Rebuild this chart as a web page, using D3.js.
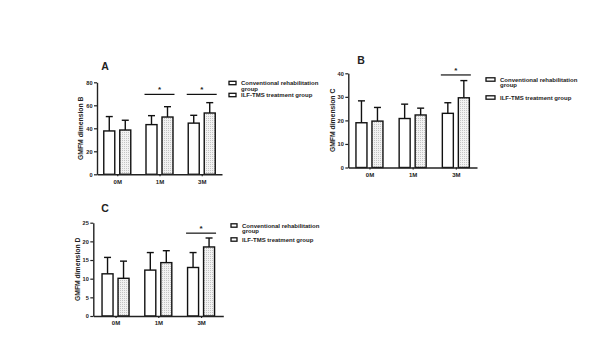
<!DOCTYPE html>
<html>
<head>
<meta charset="utf-8">
<script src="https://cdn.jsdelivr.net/npm/d3@7"></script>
<style>
  body { margin: 0; background: #fff; }
  svg text { font-family: "Liberation Sans", Arial, sans-serif; font-weight: bold; fill: #222; }
</style>
</head>
<body>
<svg id="chart" width="600" height="345"></svg>
<script>
// time points and groups
const timePoints = ['0M', '1M', '3M'];
const groupNames = ['Conventional rehabilitation group', 'ILF-TMS treatment group'];
const legendLines = [['Conventional rehabilitation', 'group'], ['ILF-TMS treatment group']];

// GMFM dimension B (panel A)
const dimBConv = [37.7, 43.2, 44.5];
const dimBConvSd = [12.5, 7.8, 6.8];
const dimBIlf = [38.5, 49.8, 53.3];
const dimBIlfSd = [8.5, 9.0, 9.0];
const dimBTicks = [0, 20, 40, 60, 80];
const dimBSig = ['1M', '3M'];

// GMFM dimension C (panel B)
const dimCConv = [19.0, 20.8, 23.0];
const dimCConvSd = [9.3, 6.1, 4.5];
const dimCIlf = [19.7, 22.3, 29.6];
const dimCIlfSd = [5.8, 2.9, 7.3];
const dimCTicks = [0, 10, 20, 30, 40];
const dimCSig = ['3M'];

// GMFM dimension D (panel C)
const dimDConv = [11.3, 12.3, 13.0];
const dimDConvSd = [4.4, 4.7, 4.0];
const dimDIlf = [10.1, 14.3, 18.5];
const dimDIlfSd = [4.6, 3.2, 2.4];
const dimDTicks = [0, 5, 10, 15, 20, 25];
const dimDSig = ['3M'];

class BarPanel {
    constructor(_config) {
        this.config = _config;
        this.initVis();
    }

    initVis() {
        let vis = this;
        let c = vis.config;

        vis.g = d3.select('#chart').append('g');

        vis.yScale = d3.scaleLinear()
            .domain([0, d3.max(c.ticks)])
            .range([c.bottom, c.top]);

        vis.xScale = d3.scalePoint()
            .domain(timePoints)
            .range([c.left, c.right])
            .padding(c.pad);

        vis.barScale = d3.scaleBand()
            .domain([0, 1])
            .range([-13.5, 13.5])
            .paddingInner(0.3125);

        vis.rows = [];
        timePoints.forEach((t, i) => {
            c.means.forEach((m, s) => {
                vis.rows.push({ t: t, s: s, mean: m[i], sd: c.sds[s][i] });
            });
        });

        vis.renderVis();
    }

    renderVis() {
        let vis = this;
        let c = vis.config;
        let bw = vis.barScale.bandwidth();

        // error bars (upper only)
        vis.g.selectAll('.err')
            .data(vis.rows)
            .join('line')
            .attr('class', 'err')
            .attr('x1', d => vis.xScale(d.t) + vis.barScale(d.s) + bw / 2)
            .attr('x2', d => vis.xScale(d.t) + vis.barScale(d.s) + bw / 2)
            .attr('y1', d => vis.yScale(d.mean))
            .attr('y2', d => vis.yScale(d.mean + d.sd))
            .attr('stroke', '#111')
            .attr('stroke-width', 1.4);

        vis.g.selectAll('.cap')
            .data(vis.rows)
            .join('line')
            .attr('class', 'cap')
            .attr('x1', d => vis.xScale(d.t) + vis.barScale(d.s) + bw / 2 - 3.5)
            .attr('x2', d => vis.xScale(d.t) + vis.barScale(d.s) + bw / 2 + 3.5)
            .attr('y1', d => vis.yScale(d.mean + d.sd))
            .attr('y2', d => vis.yScale(d.mean + d.sd))
            .attr('stroke', '#111')
            .attr('stroke-width', 1.4);

        // bars
        vis.g.selectAll('.bar')
            .data(vis.rows)
            .join('rect')
            .attr('class', 'bar')
            .attr('x', d => vis.xScale(d.t) + vis.barScale(d.s))
            .attr('width', bw)
            .attr('y', d => vis.yScale(d.mean))
            .attr('height', d => vis.yScale(0) - vis.yScale(d.mean))
            .attr('fill', d => d.s === 0 ? '#fff' : 'url(#dots)')
            .attr('stroke', '#111')
            .attr('stroke-width', 1.4);

        // axes
        let yAxis = d3.axisLeft(vis.yScale).tickValues(c.ticks).tickSize(3).tickSizeOuter(0).tickPadding(1.5);
        let yAxisG = vis.g.append('g')
            .attr('transform', `translate(${c.left},0)`)
            .call(yAxis);

        let xAxis = d3.axisBottom(vis.xScale).tickSize(2).tickSizeOuter(0).tickPadding(3);
        let xAxisG = vis.g.append('g')
            .attr('transform', `translate(0,${c.bottom})`)
            .call(xAxis);

        [yAxisG, xAxisG].forEach(a => {
            a.select('.domain').attr('stroke', '#222').attr('stroke-width', 1.4);
            a.selectAll('.tick line').attr('stroke', '#222').attr('stroke-width', 1.2);
            a.selectAll('.tick text').style('font-size', '5.6px').attr('fill', '#333');
        });
        xAxisG.selectAll('.tick text').style('font-size', '6px');

        // y title
        vis.g.append('text')
            .attr('transform', `translate(${c.left - 16},${(c.top + c.bottom) / 2}) rotate(-90)`)
            .attr('text-anchor', 'middle')
            .attr('dy', '0.35em')
            .style('font-size', '6.8px')
            .text(c.yTitle);

        // panel letter
        vis.g.append('text')
            .attr('x', c.letterX)
            .attr('y', c.letterY)
            .attr('text-anchor', 'middle')
            .attr('dy', '0.35em')
            .style('font-size', '10.5px')
            .text(c.letter);

        // significance lines
        c.sig.forEach(t => {
            let cx = vis.xScale(t);
            let y = vis.yScale(c.sigValue);
            vis.g.append('line')
                .attr('x1', cx - 15).attr('x2', cx + 15)
                .attr('y1', y).attr('y2', y)
                .attr('stroke', '#111').attr('stroke-width', 1.2);
            vis.g.append('text')
                .attr('x', cx).attr('y', y - 2)
                .attr('text-anchor', 'middle')
                .style('font-size', '8px')
                .text('*');
        });

        // legend
        let lg = vis.g.append('g').attr('transform', `translate(${c.legX},${c.legY})`);
        legendLines.forEach((lines, i) => {
            let y0 = i * c.legGap;
            lg.append('rect')
                .attr('x', 0).attr('y', y0 - 1.7)
                .attr('width', c.legBox).attr('height', 3.4)
                .attr('fill', '#fff').attr('stroke', '#111').attr('stroke-width', 1.3);
            lines.forEach((l, j) => {
                lg.append('text')
                    .attr('x', c.legBox + 5)
                    .attr('y', y0 + j * 5.8)
                    .attr('dy', '0.35em')
                    .style('font-size', '6px')
                    .text(l);
            });
        });
    }
}

// dot pattern for the ILF-TMS bars
let defs = d3.select('#chart').append('defs');
let pat = defs.append('pattern')
    .attr('id', 'dots')
    .attr('width', 2).attr('height', 2)
    .attr('patternUnits', 'userSpaceOnUse');
pat.append('rect').attr('width', 2).attr('height', 2).attr('fill', '#f2f2f2');
pat.append('rect').attr('width', 1).attr('height', 1).attr('fill', '#c4c4c4');

new BarPanel({
    letter: 'A', letterX: 105, letterY: 66.5,
    yTitle: 'GMFM dimension B',
    means: [dimBConv, dimBIlf], sds: [dimBConvSd, dimBIlfSd],
    ticks: dimBTicks, sig: dimBSig, sigValue: 69.5,
    left: 97, right: 222, top: 82.3, bottom: 174.3, pad: 0.48,
    legX: 229, legY: 83, legGap: 12, legBox: 7
});

new BarPanel({
    letter: 'B', letterX: 361, letterY: 60.5,
    yTitle: 'GMFM dimension C',
    means: [dimCConv, dimCIlf], sds: [dimCConvSd, dimCIlfSd],
    ticks: dimCTicks, sig: dimCSig, sigValue: 39.3,
    left: 348.3, right: 477, top: 73.3, bottom: 167.5, pad: 0.49,
    legX: 486, legY: 79.5, legGap: 18, legBox: 9
});

new BarPanel({
    letter: 'C', letterX: 105, letterY: 208,
    yTitle: 'GMFM dimension D',
    means: [dimDConv, dimDIlf], sds: [dimDConvSd, dimDIlfSd],
    ticks: dimDTicks, sig: dimDSig, sigValue: 22.2,
    left: 93.3, right: 223.3, top: 222.7, bottom: 316, pad: 0.52,
    legX: 231, legY: 225.5, legGap: 14, legBox: 6
});
</script>
</body>
</html>
